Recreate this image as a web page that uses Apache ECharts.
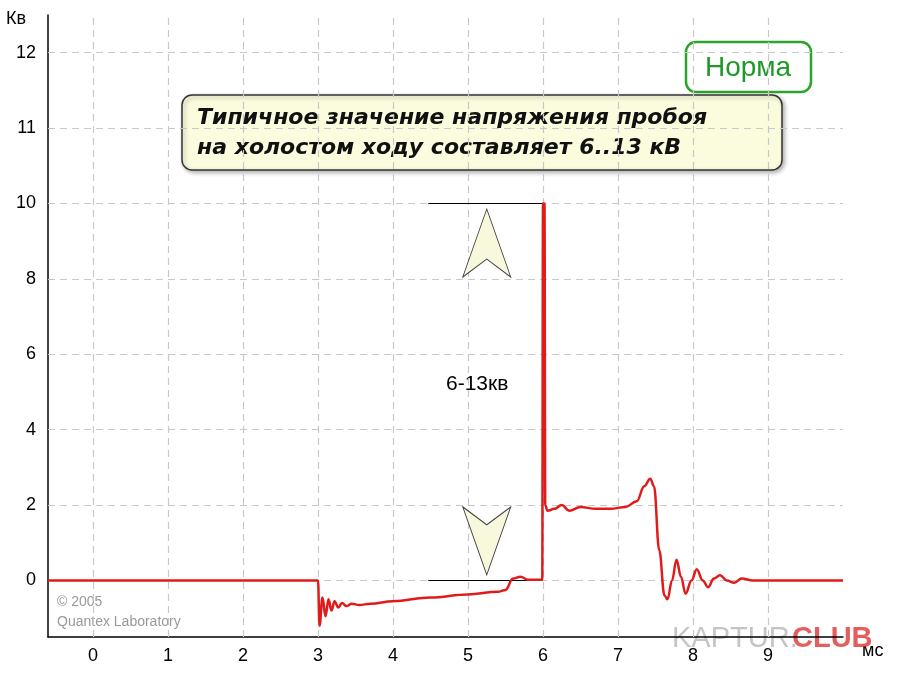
<!DOCTYPE html>
<head>
    <meta charset="utf-8">
    <title>ECharts</title>
</head>
<body style="margin:0;background:#fff">
    <div id="main" style="height:674px;width:900px"></div>
    <script src="https://cdn.jsdelivr.net/npm/echarts@6/dist/echarts.min.js"></script>
    <script type="text/javascript">
    // кривая напряжения, мс / кВ (шкала выше 10 сжата: 12 -> "11", 14 -> "12")
    var curveX = [-0.6, 3.0, 3.02, 3.06, 3.1, 3.14, 3.18, 3.22, 3.27, 3.32, 3.38, 3.45, 3.55, 3.7, 4.0, 4.5, 5.0, 5.4, 5.5, 5.6, 5.7, 5.8, 5.9, 5.99,
                  6.0, 6.02, 6.03, 6.06, 6.15, 6.25, 6.35, 6.5, 6.7, 6.9, 7.1, 7.25, 7.35, 7.43, 7.48, 7.55, 7.62, 7.66, 7.72, 7.78, 7.84, 7.9,
                  7.98, 8.05, 8.13, 8.2, 8.28, 8.36, 8.45, 8.55, 8.65, 8.8, 10];
    var curveY = [0, 0, -1.2, -0.45, -0.95, -0.5, -0.8, -0.55, -0.72, -0.6, -0.68, -0.62, -0.65, -0.62, -0.55, -0.45, -0.37, -0.3, -0.25, 0.05, 0.1, 0.02, 0.02, 0.02,
                  10, 10, 2.0, 1.85, 1.9, 2.0, 1.85, 1.95, 1.9, 1.9, 1.95, 2.1, 2.5, 2.7, 2.5, 0.8, -0.4, -0.5, 0.0, 0.55, 0.1, -0.35,
                  0.0, 0.3, 0.0, -0.18, 0.05, 0.14, 0.0, -0.06, 0.05, 0.0, 0];
    var xGrid = [0, 1, 2, 3, 4, 5, 6, 7, 8, 9];
    var yGrid = [0, 2, 4, 6, 8, 10, 12, 14];
    var yLabels = {0: '0', 2: '2', 4: '4', 6: '6', 8: '8', 10: '10', 12: '11', 14: '12'};
    var levelLines = [0, 10];

    var myChart = echarts.init(document.getElementById('main'));
    var pts = curveX.map(function (x, i) { return [x, curveY[i]]; });
    var gridLines = [];
    xGrid.forEach(function (x) { gridLines.push({xAxis: x}); });
    yGrid.forEach(function (y) { gridLines.push({yAxis: y}); });
    var font = 'Liberation Sans';
    var upArrow = 'path://M24,0 L48,68 L24,50 L0,68 Z';
    var downArrow = 'path://M0,0 L24,18 L48,0 L24,68 Z';

    var option = {
        backgroundColor: '#fff',
        animation: false,
        grid: {left: 48, right: 57, top: 15, bottom: 37},
        xAxis: {
            type: 'value', min: -0.6, max: 10, interval: 0.1,
            axisLine: {onZero: false, lineStyle: {color: '#000', width: 1.5}},
            axisTick: {show: false},
            splitLine: {show: false},
            axisLabel: {
                color: '#000', fontSize: 18, fontFamily: font, margin: 10,
                formatter: function (v) {
                    var r = Math.round(v);
                    return (Math.abs(v - r) < 1e-6 && r >= 0 && r <= 9) ? String(r) : '';
                }
            }
        },
        yAxis: {
            type: 'value', min: -1.5, max: 15, interval: 0.5,
            axisLine: {onZero: false, lineStyle: {color: '#000', width: 1.5}},
            axisTick: {show: false},
            splitLine: {show: false},
            axisLabel: {
                color: '#000', fontSize: 18, fontFamily: font, margin: 12,
                formatter: function (v) {
                    var r = Math.round(v);
                    return (Math.abs(v - r) < 1e-6 && yLabels[r] !== undefined) ? yLabels[r] : '';
                }
            }
        },
        graphic: [
            {type: 'text', left: 6, top: 10, style: {text: 'Кв', fontSize: 18, fontFamily: font, fill: '#000'}},
            {type: 'text', left: 862, top: 642, style: {text: 'мс', fontSize: 18, fontFamily: font, fill: '#000'}},
            {type: 'text', left: 672, top: 624, style: {text: 'KAPTUR.', fontSize: 29, fontFamily: font, fill: 'rgba(150,150,150,0.55)'}},
            {type: 'text', left: 792, top: 624, style: {text: 'CLUB', fontSize: 29, fontFamily: font, fontWeight: 'bold', fill: 'rgba(220,40,40,0.75)'}},
            {type: 'text', left: 57, top: 592, style: {text: '© 2005\nQuantex Laboratory', fontSize: 14, lineHeight: 20, fontFamily: font, fill: '#999'}},
            {type: 'rect', shape: {x: 686, y: 42, width: 125, height: 50, r: 10},
                style: {fill: '#fff', stroke: '#2aa52a', lineWidth: 2.5}},
            {type: 'text', x: 748, y: 68, style: {text: 'Норма', fontSize: 28, fontFamily: font, fill: '#1f9a2a', align: 'center', verticalAlign: 'middle'}},
            {type: 'rect', shape: {x: 182, y: 95, width: 600, height: 75, r: 10},
                style: {fill: '#fbfbdd', stroke: '#333', lineWidth: 1.5, shadowBlur: 4, shadowColor: 'rgba(0,0,0,0.3)', shadowOffsetX: 2, shadowOffsetY: 2}},
            {type: 'text', left: 197, top: 103, style: {text: 'Типичное значение напряжения пробоя\nна холостом ходу составляет 6..13 кВ',
                fontSize: 22, lineHeight: 30, fontFamily: 'DejaVu Sans', fontStyle: 'italic', fontWeight: 'bold', fill: '#111'}},
            {type: 'text', left: 446, top: 374, style: {text: '6-13кв', fontSize: 21, fontFamily: font, fill: '#000'}}
        ],
        series: [
            {
                type: 'line', data: [], silent: true,
                markLine: {
                    symbol: 'none', silent: true, label: {show: false},
                    lineStyle: {color: '#c8c8c8', type: [7, 5], width: 1.2},
                    data: gridLines
                }
            },
            {
                type: 'line', data: [], silent: true,
                markLine: {
                    symbol: 'none', silent: true, label: {show: false},
                    lineStyle: {color: '#000', type: 'solid', width: 1},
                    data: levelLines.map(function (y) { return [{coord: [4.47, y]}, {coord: [6.0, y]}]; })
                },
                markPoint: {
                    silent: true, label: {show: false},
                    itemStyle: {color: '#f8f8dc', borderColor: '#444', borderWidth: 1},
                    data: [
                        {coord: [5.25, 8.95], symbol: upArrow, symbolSize: [48, 68]},
                        {coord: [5.25, 1.05], symbol: downArrow, symbolSize: [48, 68]}
                    ]
                }
            },
            {
                type: 'line', data: pts, showSymbol: false, z: 5,
                smooth: 0.4, smoothMonotone: 'x',
                lineStyle: {color: '#e01b1b', width: 2.5}
            }
        ]
    };
    myChart.setOption(option);
    </script>
</body>
